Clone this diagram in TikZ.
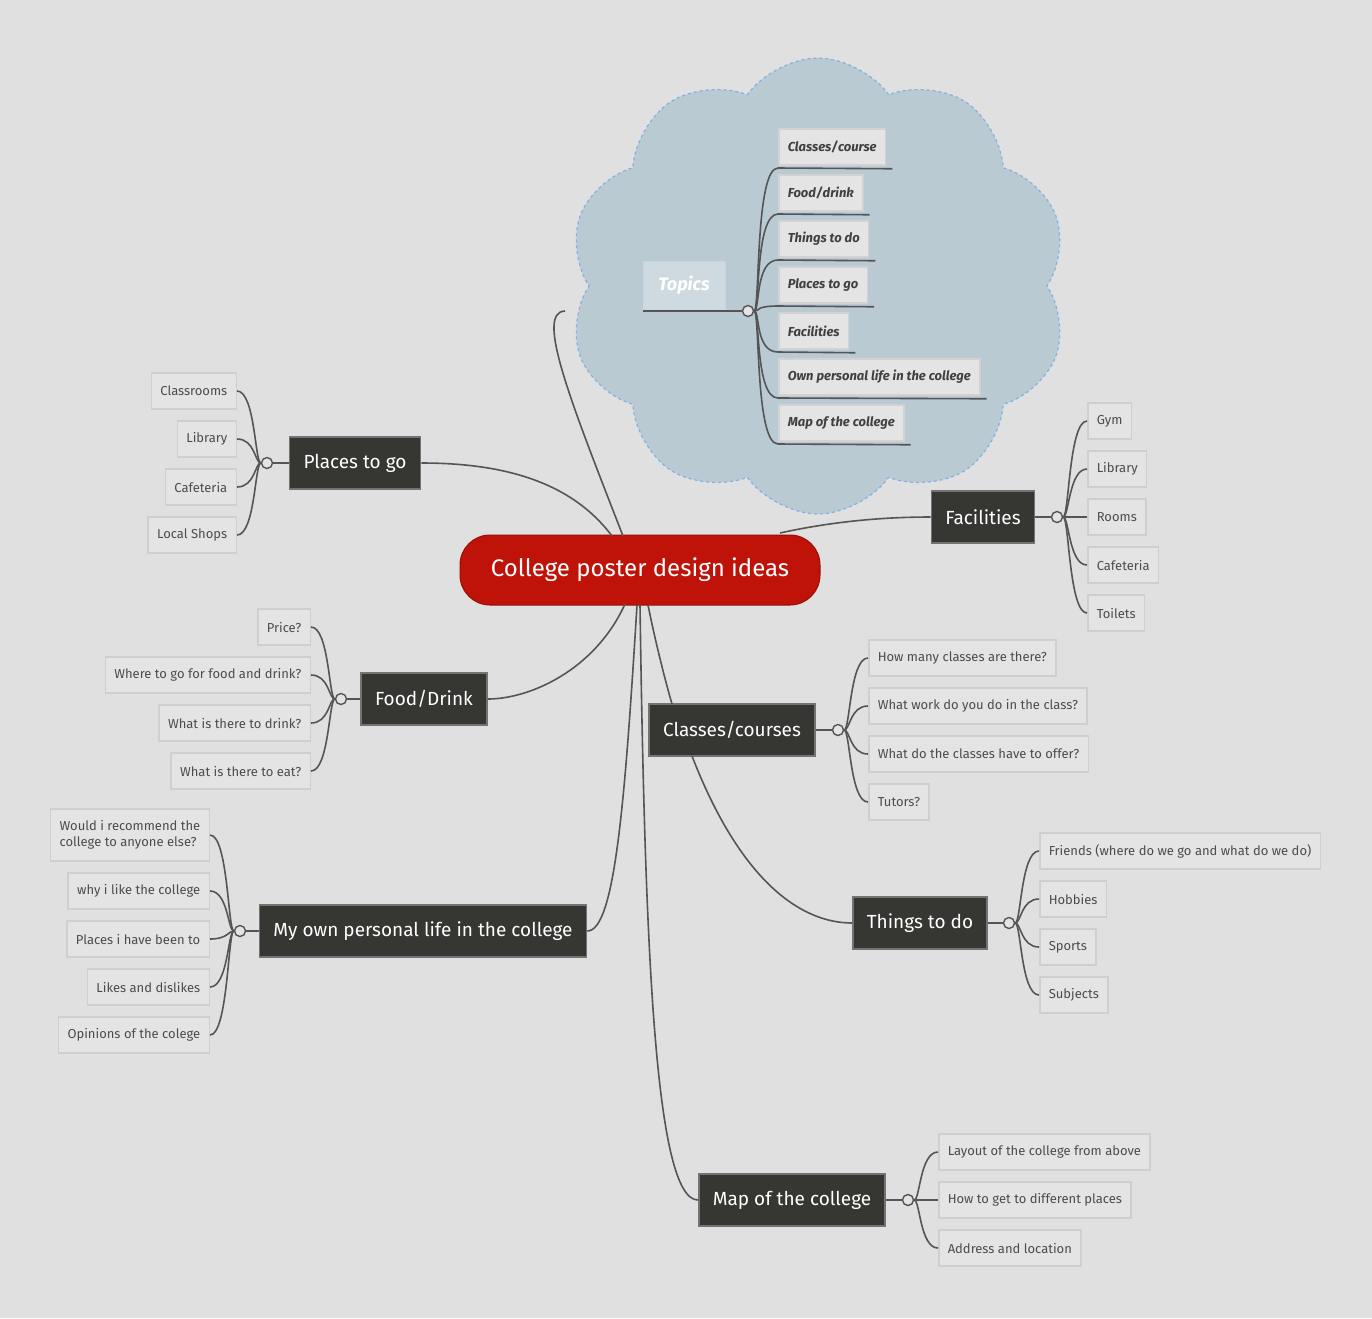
\documentclass[tikz,border=0pt]{standalone}
\usepackage{fontspec}
\setmainfont{Fira Sans}
\usetikzlibrary{shapes.symbols,calc}
\definecolor{bg}{HTML}{E0E0E0}
\definecolor{ln}{HTML}{555555}
\definecolor{dk}{HTML}{363632}
\definecolor{red1}{HTML}{BF1209}
\definecolor{cl}{HTML}{B9CAD3}
\definecolor{lf}{HTML}{E4E4E4}
\tikzset{
  conn/.style={draw=ln,line width=1.6pt},
  leaf/.style={draw=lf!85!black!60!lf,fill=lf,line width=1.5pt,inner xsep=9pt,minimum height=36pt,text=black!70,font=\fontsize{13}{16}\selectfont,align=left},
  main/.style={fill=dk,draw=black!55,line width=1.5pt,text=white,minimum height=52pt,inner xsep=14pt,font=\fontsize{19}{22}\selectfont},
  hub/.style={circle,draw=ln,fill=lf,line width=1.4pt,inner sep=0pt,minimum size=11pt},
  topic/.style={fill=lf,draw=lf!80!black!40!lf,line width=1.5pt,inner xsep=9pt,minimum height=36pt,text=black!75,font=\fontsize{13}{16}\selectfont\bfseries\itshape,anchor=west},
}
\newcommand{\lft}[2]{%
  \draw[conn] (#1) .. controls ($(#1)+(-12,0)$) and ($(#2.east -| #1)+(-12,0)$) .. (#2.east);}
\newcommand{\rgt}[2]{%
  \draw[conn] (#1) .. controls ($(#1)+(12,0)$) and ($(#2.west -| #1)+(12,0)$) .. (#2.west);}
\begin{document}
\begin{tikzpicture}[x=1pt,y=-1pt]
\fill[bg] (0,0) rectangle (1372,1318);
\useasboundingbox (0,0) rectangle (1372,1318);
% cloud
\node[cloud,cloud puffs=10,cloud puff arc=110,aspect=1.1,draw=cyan!60!blue!50,dashed,line width=1.2pt,fill=cl,minimum width=500pt,minimum height=456pt] (cloud) at (818,286) {};
% center
\node[rounded corners=30pt,fill=red1,draw=red1!80!black,line width=1pt,minimum width=360pt,minimum height=70pt,text=white,font=\fontsize{24}{28}\selectfont] (c) at (640,570) {College poster design ideas};
% main nodes
\node[main] (pl) at (355,463) {Places to go};
\node[main] (fd) at (424,699) {Food/Drink};
\node[main] (pe) at (423,931) {My own personal life in the college};
\node[main] (fa) at (983,517) {Facilities};
\node[main] (cc) at (732,730) {Classes/courses};
\node[main] (td) at (920,923) {Things to do};
\node[main] (mp) at (792,1200) {Map of the college};
% center connectors
\coordinate (tend) at (565,311);
\draw[conn] (612,536) .. controls (570,480) and (500,463) .. (pl.east);
\draw[conn] (623,536) .. controls (570,400) and (535,312) .. (tend);
\draw[conn] (780,533) .. controls (830,522) and (880,517) .. (fa.west);
\draw[conn] (625,604) .. controls (595,670) and (530,699) .. (fd.east);
\draw[conn] (637,605) .. controls (625,800) and (615,931) .. (pe.east);
\draw[conn] (648,605) .. controls (655,640) and (665,680) .. (672,704);
\draw[conn] (692,756) .. controls (740,880) and (800,923) .. (td.west);
\draw[conn] (640,605) .. controls (645,950) and (655,1200) .. (mp.west);
% Topics
\node[fill=cl!70!white,draw=cl!80!white,line width=1pt,minimum width=82pt,minimum height=48pt,text=white,font=\fontsize{18}{22}\selectfont\bfseries\itshape] (tp) at (684,285) {Topics};
\node[hub] (th) at (748,311) {};
\draw[conn] (643,311) -- (th);
\foreach \n/\t/\y in {t1/Classes\slash course/147,t2/Food\slash drink/193,t3/Things to do/239,t4/Places to go/285,t5/Facilities/331,t6/Own personal life in the college/377,t7/Map of the college/423}{
  \node[topic] (\n) at (778,\y) {\t};
  \draw[conn] (th) .. controls (760,311) and (755,\y+21) .. (778,\y+21) -- ($(\n.south east)+(6,3)$);
}
% Places leaves
\node[hub] (h1) at (267,463) {};
\draw[conn] (h1) -- (pl.west);
\foreach \n/\t/\y in {a1/Classrooms/391,a2/Library/439,a3/Cafeteria/487,a4/Local Shops/535}{
  \node[leaf,anchor=east] (\n) at (237,\y) {\t}; \lft{h1}{\n}}
% Food leaves
\node[hub] (h2) at (341,699) {};
\draw[conn] (h2) -- (fd.west);
\foreach \n/\t/\y in {b1/Price?/627,b2/Where to go for food and drink?/675,b3/What is there to drink?/723,b4/What is there to eat?/771}{
  \node[leaf,anchor=east] (\n) at (311,\y) {\t}; \lft{h2}{\n}}
% Personal leaves
\node[hub] (h3) at (240,931) {};
\draw[conn] (h3) -- (pe.west);
\node[leaf,anchor=east,minimum height=52pt] (p1) at (210,835) {Would i recommend the\\college to anyone else?};
\lft{h3}{p1}
\foreach \n/\t/\y in {p2/why i like the college/891,p3/Places i have been to/939,p4/Likes and dislikes/987,p5/Opinions of the colege/1035}{
  \node[leaf,anchor=east] (\n) at (210,\y) {\t}; \lft{h3}{\n}}
% Facilities leaves
\node[hub] (h4) at (1057,517) {};
\draw[conn] (fa.east) -- (h4);
\foreach \n/\t/\y in {f1/Gym/421,f2/Library/469,f3/Rooms/517,f4/Cafeteria/565,f5/Toilets/613}{
  \node[leaf,anchor=west] (\n) at (1087,\y) {\t}; \rgt{h4}{\n}}
% Classes leaves
\node[hub] (h5) at (838,730) {};
\draw[conn] (cc.east) -- (h5);
\foreach \n/\t/\y in {c1/How many classes are there?/658,c2/What work do you do in the class?/706,c3/What do the classes have to offer?/754,c4/Tutors?/802}{
  \node[leaf,anchor=west] (\n) at (868,\y) {\t}; \rgt{h5}{\n}}
% Things leaves
\node[hub] (h6) at (1009,923) {};
\draw[conn] (td.east) -- (h6);
\foreach \n/\t/\y in {d1/Friends (where do we go and what do we do)/851,d2/Hobbies/899,d3/Sports/947,d4/Subjects/995}{
  \node[leaf,anchor=west] (\n) at (1039,\y) {\t}; \rgt{h6}{\n}}
% Map leaves
\node[hub] (h7) at (908,1200) {};
\draw[conn] (mp.east) -- (h7);
\foreach \n/\t/\y in {m1/Layout of the college from above/1152,m2/How to get to different places/1200,m3/Address and location/1248}{
  \node[leaf,anchor=west] (\n) at (938,\y) {\t}; \rgt{h7}{\n}}
\end{tikzpicture}
\end{document}
